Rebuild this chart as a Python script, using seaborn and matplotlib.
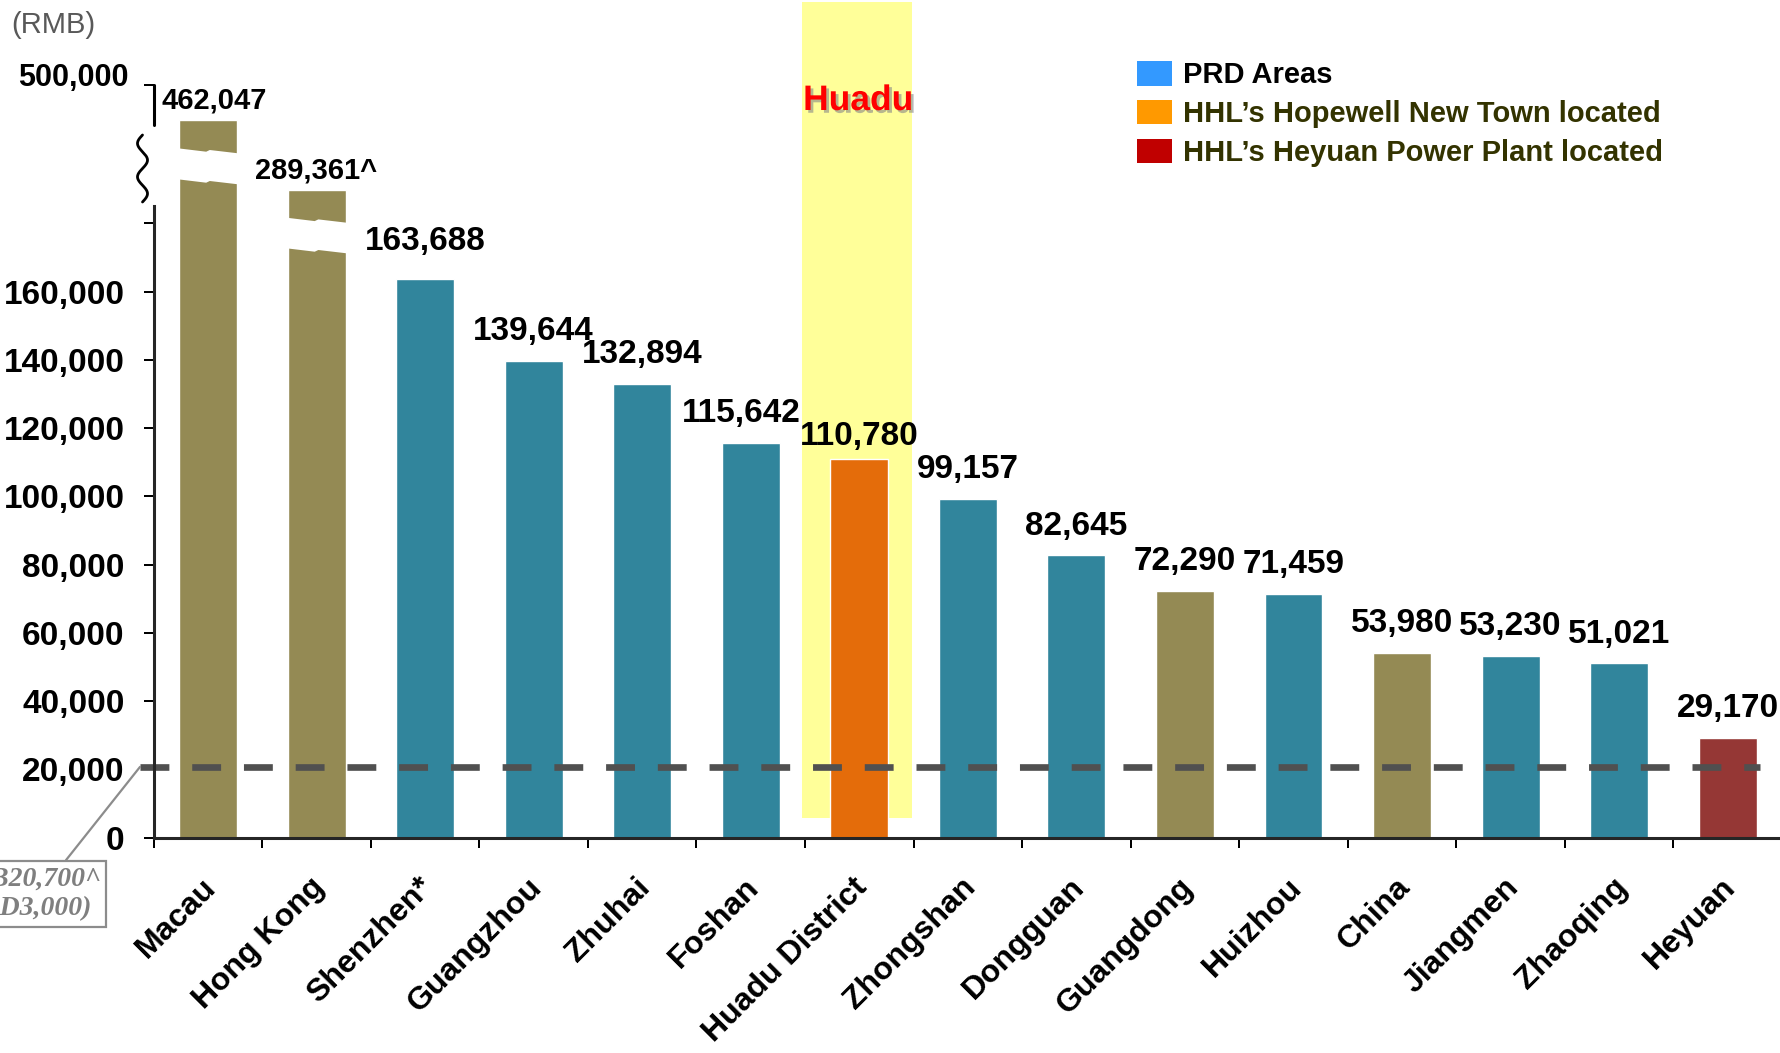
import numpy as np
import pandas as pd
import matplotlib
matplotlib.use("Agg")
import matplotlib.pyplot as plt
import matplotlib.transforms as mtransforms
import matplotlib.patheffects as pe
from matplotlib.patches import Patch, Rectangle, Polygon
import seaborn as sns

sns.set_style("white")
plt.rcParams['font.family'] = ['Liberation Sans', 'DejaVu Sans']
plt.rcParams['text.color'] = 'black'
plt.rcParams['xtick.color'] = 'black'
plt.rcParams['ytick.color'] = 'black'

# data
cities = ['Macau', 'Hong Kong', 'Shenzhen*', 'Guangzhou', 'Zhuhai', 'Foshan',
          'Huadu District', 'Zhongshan', 'Dongguan', 'Guangdong', 'Huizhou',
          'China', 'Jiangmen', 'Zhaoqing', 'Heyuan']
gdp = [462047, 289361, 163688, 139644, 132894, 115642, 110780, 99157,
       82645, 72290, 71459, 53980, 53230, 51021, 29170]
suffix = ['', '^', '', '', '', '', '', '', '', '', '', '', '', '', '']
groups = ['other', 'other', 'prd', 'prd', 'prd', 'prd', 'huadu', 'prd', 'prd',
          'other', 'prd', 'other', 'prd', 'prd', 'heyuan']
threshold = 20700
yticks = [0, 20000, 40000, 60000, 80000, 100000, 120000, 140000, 160000, 180000]

legend_labels = ['PRD Areas', 'HHL\u2019s Hopewell New Town located',
                 'HHL\u2019s Heyuan Power Plant located']
legend_colors = ['#3399FF', '#FF9900', '#C00000']
legend_text_colors = ['black', '#333300', '#333300']

palette = {'other': '#948A54', 'prd': '#31859C', 'huadu': '#E46C0A', 'heyuan': '#953735'}

# small nudges of some value labels (pixels: dx, dy up)
label_nudge = {2: (0, 8), 5: (-9, 0), 6: (0, -6)}

df = pd.DataFrame({'city': cities, 'gdp': gdp, 'group': groups})

W, H = 1781, 1053
fig = plt.figure(figsize=(W / 100, H / 100), dpi=100)
ax_left, ax_right, ax_bot, ax_top = 153.7, 1782, 837.5, 85
ax = fig.add_axes([ax_left / W, 1 - ax_bot / H, (ax_right - ax_left) / W, (ax_bot - ax_top) / H])

def fy(p):
    # pixel row -> figure fraction
    return 1 - p / H

# broken y scale: linear up to 185k, compressed above
xp = np.array([-1e6, 0, 185000, 289361, 462047, 500000, 1e6])
fp = np.array([-1e6 * 631.3 / 185000, 0, 631.3, 647.5, 717.5, 752.5, 752.5 + 500000 * 35 / 37953])
ax.set_yscale('function', functions=(lambda v: np.interp(v, xp, fp), lambda p: np.interp(p, fp, xp)))

sns.barplot(data=df, x='city', y='gdp', hue='group', palette=palette, dodge=False,
            width=0.534, errorbar=None, legend=False, ax=ax, zorder=2, saturation=1)
ax.set_xlim(-0.5, 14.5)
ax.set_ylim(0, 500000)
ax.set_xlabel('')
ax.set_ylabel('')

# Huadu highlight
bt = mtransforms.blended_transform_factory(ax.transData, fig.transFigure)
ax.add_patch(Rectangle((5.47, fy(818)), 1.02, fy(2) - fy(818), transform=bt,
                       facecolor='#FFFF99', edgecolor='none', zorder=0.5, clip_on=False))
ax.text(5.99, fy(110), 'Huadu', transform=bt, ha='center', va='baseline', fontsize=25.5,
        fontweight='bold', color='#FF0000', zorder=5,
        path_effects=[pe.SimplePatchShadow(offset=(2, -2), shadow_rgbFace='#888888', alpha=0.6), pe.Normal()])

# white wavy breaks through the two tall bars
def bar_break(i, top, thick=31):
    hw = 0.534 / 2 + 0.01
    fr = np.array([0, 0.47, 0.53, 1.0])
    dy = np.array([0, 3.4, 1.7, 5.0])
    xs = i - hw + fr * 2 * hw
    upper = [(x, fy(top + d)) for x, d in zip(xs, dy)]
    lower = [(x, fy(top + thick + d)) for x, d in zip(xs[::-1], dy[::-1])]
    ax.add_patch(Polygon(upper + lower, closed=True, transform=bt, facecolor='white',
                         edgecolor='none', zorder=3, clip_on=False))

bar_break(0, 148.3)
bar_break(1, 217.7, 30.6)

# threshold dashed line
ax.plot([-0.626, 14.3], [threshold, threshold], color='#505050', lw=4.8,
        dashes=(4.33, 3.43), solid_capstyle='butt', dash_capstyle='butt', zorder=4, clip_on=False)

# value labels
for i, (v, s) in enumerate(zip(gdp, suffix)):
    txt = f'{v:,}{s}'
    if i == 0:
        ax.annotate(txt, xy=(-0.5, v), xytext=(5.5, 8.6), textcoords='offset points',
                    ha='left', va='baseline', fontsize=21, fontweight='bold', zorder=5)
    elif i == 1:
        ax.annotate(txt, xy=(i, v), xytext=(0, 8.6), textcoords='offset points',
                    ha='center', va='baseline', fontsize=21, fontweight='bold', zorder=5)
    else:
        ndx, ndy = label_nudge.get(i, (0, 0))
        ax.annotate(txt, xy=(i, v), xytext=(ndx * 0.72, 15 + ndy * 0.72), textcoords='offset points',
                    ha='center', va='baseline', fontsize=24, fontweight='bold', zorder=5)

# axes styling
for sp in ['top', 'right']:
    ax.spines[sp].set_visible(False)
ax.spines['left'].set_bounds(0, 185000)
ax.spines['left'].set_linewidth(2.2)
ax.spines['bottom'].set_linewidth(2.2)
ax.spines['left'].set_zorder(6)
ax.spines['bottom'].set_zorder(6)

ax.set_yticks(yticks + [500000])
ax.set_yticklabels([f'{t:,}' if t <= 160000 else '' for t in yticks] + [''])
ax.tick_params(axis='y', which='major', left=True, length=7.2, width=1.44, pad=13.7,
               labelsize=24, color='black')
for lab in ax.get_yticklabels():
    lab.set_fontweight('bold')

yt = ax.get_yaxis_transform()
ax.plot([0, 0], [450000, 500000], transform=yt, color='black', lw=2.2, clip_on=False, zorder=6)
ax.annotate('500,000', xy=(0, 500000), xycoords=yt, xytext=(-18, 5), textcoords='offset points',
            ha='right', va='center', fontsize=22, fontweight='bold')

# wavy break on the axis
t = np.linspace(0, 1, 200)
wx = 142.5 - 5.0 * np.sin(2 * np.pi * 2.0 * t)
wy = 135 + 67 * t
ax.plot(wx / W, fy(wy), transform=fig.transFigure, color='black', lw=2.0, clip_on=False)

# x ticks at boundaries, labels at centers
ax.set_xticks(np.arange(-0.5, 14.0, 1.0), minor=True)
ax.tick_params(axis='x', which='minor', bottom=True, length=7.2, width=1.44, color='black')
ax.tick_params(axis='x', which='major', bottom=True, length=0, pad=25, labelsize=23)
offset = mtransforms.ScaledTranslation(-7 / 100, 0, fig.dpi_scale_trans)
for lab in ax.get_xticklabels():
    lab.set_rotation(45)
    lab.set_ha('right')
    lab.set_va('top')
    lab.set_rotation_mode('anchor')
    lab.set_fontweight('bold')
    lab.set_transform(lab.get_transform() + offset)

# threshold note
ax.annotate('RMB20,700^\n(USD3,000)', xy=(-0.626, threshold), xycoords='data',
            xytext=(24 / W, fy(894)), textcoords='figure fraction',
            ha='center', va='center', fontsize=20, family='Liberation Serif',
            fontstyle='italic', fontweight='bold', color='#7F7F7F', linespacing=1.26,
            bbox=dict(boxstyle='square,pad=0.2', fc='white', ec='#8C8C8C', lw=1.6),
            arrowprops=dict(arrowstyle='-', color='#8C8C8C', lw=1.6, relpos=(0.74, 1.0),
                            shrinkA=0, shrinkB=0),
            annotation_clip=False, zorder=7)

fig.text(11 / W, fy(33), '(RMB)', ha='left', va='baseline', fontsize=21, color='#595959')

# legend
handles = [Patch(facecolor=c, edgecolor='none') for c in legend_colors]
leg = ax.legend(handles, legend_labels, loc='upper left', bbox_to_anchor=(1137 / W, fy(61)),
                bbox_transform=fig.transFigure, frameon=False, borderpad=0, borderaxespad=0,
                handlelength=1.2, handleheight=0.92, handletextpad=0.38, labelspacing=0.36,
                prop={'weight': 'bold', 'size': 21})
for txt, c in zip(leg.get_texts(), legend_text_colors):
    txt.set_color(c)

fig.savefig('out.png', dpi=100)
